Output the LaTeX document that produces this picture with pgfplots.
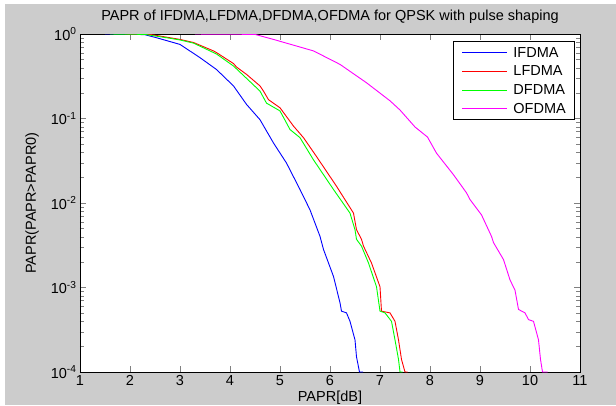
\documentclass[border=0pt]{standalone}
\usepackage{fontspec}
\setmainfont{Liberation Sans}
\usepackage{pgfplots}
\pgfplotsset{compat=1.18}
\definecolor{figbg}{RGB}{204,204,204}
\definecolor{mblue}{RGB}{0,0,255}
\definecolor{mred}{RGB}{255,0,0}
\definecolor{mgreen}{RGB}{0,255,0}
\definecolor{mmag}{RGB}{255,0,255}

\begin{document}
\begin{tikzpicture}
\fill[white] (-80pt,-33pt) rectangle (536pt,372pt);
\fill[figbg] (-75pt,-33pt) rectangle (536pt,368pt);
\begin{axis}[
    at={(0,0)}, anchor=south west,
    scale only axis,
    width=500pt, height=338pt,
    ymode=log,
    xmin=1, xmax=11, ymin=1e-4, ymax=1,
    xtick={1,2,...,11},
    ytick={1e-4,1e-3,1e-2,1e-1,1},
    yticklabels={10\textsuperscript{-4},10\textsuperscript{-3},10\textsuperscript{-2},10\textsuperscript{-1},10\textsuperscript{0}},
    /pgf/number format/assume math mode=true,
    tick align=inside,
    major tick length=6pt,
    minor tick length=4pt,
    axis background/.style={fill=white},
    axis line style={black, line width=0.6pt},
    font=\fontsize{14.5}{17}\selectfont,
    every axis title shift=0pt,
    title={PAPR of IFDMA,LFDMA,DFDMA,OFDMA for QPSK with pulse shaping},
    title style={at={(axis description cs:0.5,1.05)}, anchor=center},
    xlabel={PAPR[dB]},
    xlabel style={at={(axis description cs:0.5,-0.077)}, anchor=center},
    ylabel={PAPR(PAPR>PAPR0)},
    ylabel style={at={(axis description cs:-0.096,0.5)}, anchor=center},
    every axis plot/.append style={line width=0.9pt},
]
% IFDMA
\addplot[mblue] coordinates {
(1.5,1) (2.0,0.999) (2.3,0.98) (2.53,0.904) (3.0,0.753) (3.4,0.525) (3.73,0.380)
(4.07,0.243) (4.33,0.147) (4.6,0.0968) (4.87,0.0513) (5.13,0.0297) (5.4,0.01445)
(5.6,0.0083) (5.8,0.00403) (5.87,0.00282) (6.07,0.00135) (6.2,0.00066) (6.23,0.000525)
(6.33,0.000501) (6.4,0.000398) (6.5,0.00024) (6.53,0.000151) (6.59,0.0001) (6.66,0.0001)
};
% LFDMA
\addplot[mred] coordinates {
(1.9,1) (2.4,0.99) (2.8,0.904) (3.0,0.863) (3.27,0.794) (3.67,0.631) (3.73,0.603)
(4.07,0.447) (4.13,0.407) (4.33,0.333) (4.6,0.243) (4.67,0.211) (4.77,0.167) (5.0,0.134)
(5.27,0.0813) (5.47,0.0593) (5.73,0.0355) (6.13,0.0158) (6.47,0.00759) (6.53,0.00483)
(6.63,0.00372) (6.67,0.00309) (6.83,0.00195) (7.0,0.00102) (7.03,0.000525) (7.2,0.000501)
(7.3,0.000398) (7.37,0.00024) (7.43,0.000141) (7.5,0.0001) (7.55,0.0001)
};
% DFDMA
\addplot[mgreen] coordinates {
(1.6,1) (2.3,0.99) (2.8,0.89) (3.0,0.85) (3.27,0.78) (3.73,0.58) (4.07,0.418)
(4.6,0.211) (4.73,0.152) (5.0,0.123) (5.2,0.0741) (5.4,0.0593) (5.67,0.0324)
(6.07,0.01445) (6.4,0.00759) (6.5,0.00483) (6.53,0.00372) (6.63,0.00309) (6.77,0.00195)
(6.93,0.00102) (7.0,0.000525) (7.1,0.000501) (7.23,0.000398) (7.3,0.00024) (7.37,0.000141)
(7.4,0.0001) (7.45,0.0001)
};
% OFDMA
\addplot[mmag] coordinates {
(3.3,1) (4.5,0.99) (4.87,0.863) (5.67,0.631) (6.2,0.437) (6.73,0.265) (7.2,0.162)
(7.4,0.126) (7.7,0.0794) (7.95,0.0603) (8.13,0.0389) (8.47,0.0216) (8.73,0.0132)
(8.8,0.011) (9.03,0.00724) (9.23,0.00403) (9.27,0.0034) (9.47,0.00214) (9.6,0.00123)
(9.7,0.00093) (9.77,0.00055) (9.9,0.000501) (9.97,0.000417) (10.07,0.000398)
(10.17,0.00024) (10.21,0.000141) (10.25,0.0001) (10.35,0.0001)
};
\end{axis}
% legend box (drawn by hand: xetex loses the first legend colour in the matrix)
\draw[black, line width=0.6pt, fill=white] (373pt,253pt) rectangle (494pt,331pt);
\begin{scope}[line width=0.9pt, every node/.style={anchor=west, inner sep=0pt,
    font=\fontsize{14.5}{17}\selectfont}]
  \draw[mblue]  (382pt,319.3pt) -- (427pt,319.3pt);
  \draw[mred]   (382pt,301pt)   -- (427pt,301pt);
  \draw[mgreen] (382pt,282pt)   -- (427pt,282pt);
  \draw[mmag]   (382pt,263.3pt) -- (427pt,263.3pt);
  \node at (433pt,319.3pt) {IFDMA};
  \node at (433pt,301pt)   {LFDMA};
  \node at (433pt,282pt)   {DFDMA};
  \node at (433pt,263.3pt) {OFDMA};
\end{scope}
\pgfresetboundingbox
\path[use as bounding box] (-80pt,-33pt) rectangle (536pt,372pt);
\end{tikzpicture}
\end{document}
